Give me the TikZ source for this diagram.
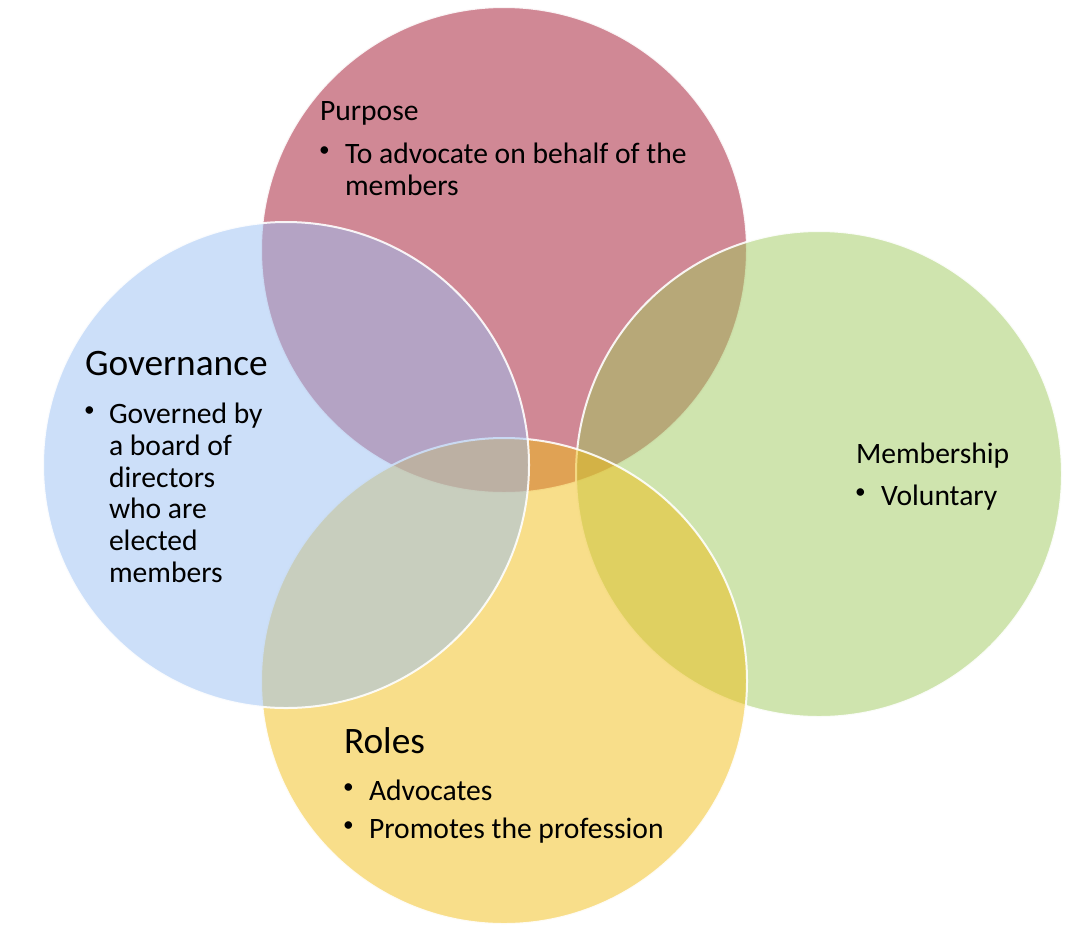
\documentclass[tikz,border=0pt]{standalone}
\usepackage{fontspec}
\setmainfont{Carlito}
\definecolor{vred}{RGB}{161,17,43}
\definecolor{vgreen}{RGB}{159,201,93}
\definecolor{vyellow}{RGB}{241,189,21}
\definecolor{vblue}{RGB}{153,191,243}
\newcommand{\blt}{\raisebox{5pt}{\fontsize{16}{16}\selectfont •}}
\begin{document}
\begin{tikzpicture}[x=0.75pt,y=-0.75pt,
  venn/.style={circle,minimum size=486*0.75pt,inner sep=0pt,outer sep=0pt,fill opacity=0.5,draw=white,draw opacity=0.9,line width=1.5pt},
  txt/.style={anchor=base west,inner sep=0pt,outer sep=0pt,font=\fontsize{22.2}{26}\selectfont},
  bigtxt/.style={anchor=base west,inner sep=0pt,outer sep=0pt,font=\fontsize{28}{33}\selectfont}]
\useasboundingbox (0,0) rectangle (1084,936);
\node[venn,fill=vred] (top) at (504,250) {};
\node[venn,fill=vgreen] (right) at (819,474) {};
\node[venn,fill=vyellow] (bottom) at (504,681) {};
\node[venn,fill=vblue] (left) at (286,465) {};
% Purpose
\node[txt] (pt) at (320,120) {Purpose};
\node[txt] (pb1) at (319,163) {\blt};
\node[txt] (p1) at (345,163) {To advocate on behalf of the};
\node[txt] (p2) at (345,195) {members};
% Governance
\node[bigtxt] (gt) at (85,375) {Governance};
\node[txt] (gb1) at (84,423) {\blt};
\node[txt] (g1) at (109,423) {Governed by};
\node[txt] (g2) at (109,455) {a board of};
\node[txt] (g3) at (109,487) {directors};
\node[txt] (g4) at (109,518) {who are};
\node[txt] (g5) at (109,550) {elected};
\node[txt] (g6) at (109,582) {members};
% Membership
\node[txt] (mt) at (856,463) {Membership};
\node[txt] (mb1) at (855,505) {\blt};
\node[txt] (m1) at (881,505) {Voluntary};
% Roles
\node[bigtxt] (rt) at (344,753) {Roles};
\node[txt] (rb1) at (343,800) {\blt};
\node[txt] (r1) at (369,800) {Advocates};
\node[txt] (rb2) at (343,838) {\blt};
\node[txt] (r2) at (369,838) {Promotes the profession};
\end{tikzpicture}
\end{document}
